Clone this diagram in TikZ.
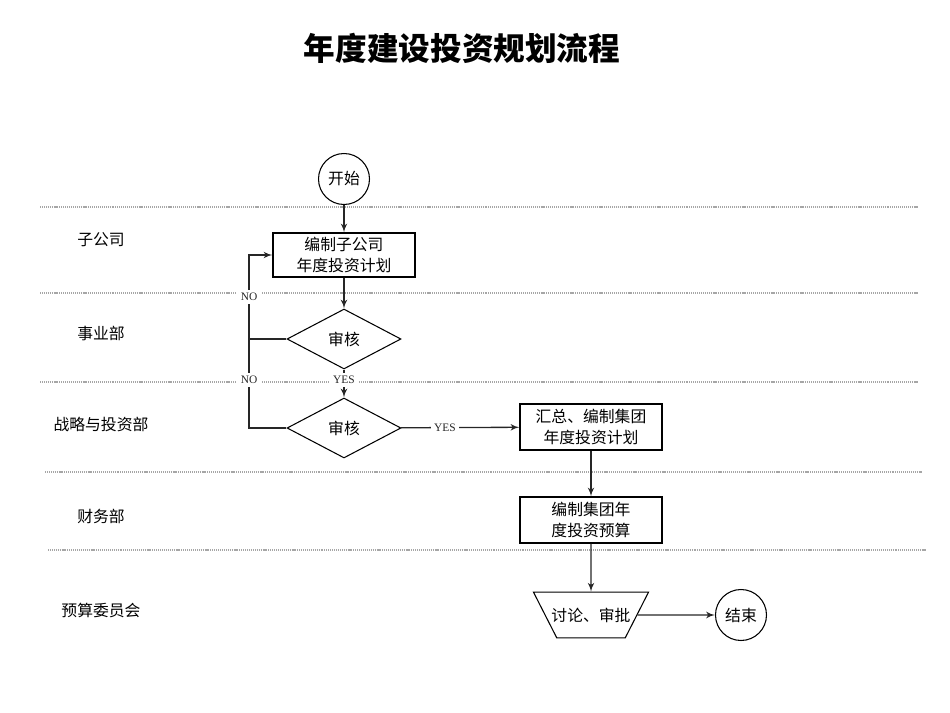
\documentclass[tikz,border=0pt]{standalone}
\usepackage{fontspec}
\setmainfont{Liberation Serif}
\newfontfamily\cjk{Noto Sans CJK SC}
\usetikzlibrary{positioning, arrows, shapes.geometric}
\tikzset{
>=latex', % filled arrow heads
every node/.style={font=\cjk\fontsize{9}{11.5}\selectfont}, % text in the nodes
proc/.style={draw, line width=0.7pt, minimum width=2.84cm, minimum height=0.88cm, align=center, inner sep=1pt}, % process boxes
chk/.style={draw, diamond, line width=0.6pt, minimum width=2.28cm, minimum height=1.2cm, inner sep=0pt}, % decisions
term/.style={draw, circle, line width=0.6pt, minimum size=1.02cm, inner sep=0pt}, % start and end
appr/.style={draw, trapezium, trapezium left angle=63, trapezium right angle=63, shape border rotate=180, trapezium stretches body=true, minimum width=2.24cm, inner xsep=-3pt, inner ysep=0.31cm, line width=0.6pt}, % committee
yn/.style={fill=white, inner sep=2pt, font=\fontsize{6.5}{7}\selectfont}, % YES / NO
link/.style={line width=0.75pt, black!85}, % connectors
lane/.style={gray!70, line width=0.7pt, dash pattern=on 0.6pt off 0.5pt}, % lane borders
}

\begin{document}
\begin{tikzpicture}[x=0.02cm, y=-0.02cm]
    \useasboundingbox (0,0) rectangle (950,713);
    \node (title) at (462,48) {\bfseries\fontsize{18}{20}\selectfont 年度建设投资规划流程};
    % lanes
    \foreach \y/\a/\b in {207/40/918, 293/40/918, 382/40/918, 472/45/922, 550/48/926}
        \draw[lane] (\a,\y) -- (\b,\y);
    \foreach \t/\y [count=\i] in {子公司/240, 事业部/333, 战略与投资部/424, 财务部/516, 预算委员会/610}
        \node (lane\i) at (101,\y) {\t};
    % steps
    \node[term] (start) at (344,179) {开始};
    \node[proc] (sub) at (344,255) {编制子公司\\年度投资计划};
    \node[chk] (chk1) at (344,339) {审核};
    \node[chk] (chk2) at (344,428) {审核};
    \node[proc, minimum height=0.92cm] (sum) at (591,427) {汇总、编制集团\\年度投资计划};
    \node[proc, minimum height=0.92cm] (bud) at (591,520) {编制集团年\\度投资预算};
    \node[appr] (appr) at (591,615) {讨论、审批};
    \node[term] (end) at (741,615) {结束};
    \draw[link, ->] (start) -- (sub);
    \draw[link, ->] (sub) -- (chk1);
    \draw[link, ->] (chk1) -- node[yn, pos=0.38]{YES} (chk2);
    \draw[link, ->] (chk2) -- node[yn, pos=0.37]{YES} (sum);
    \draw[link, ->] (chk1.west) -| (249,297) node[yn]{NO} |- (sub.west);
    \draw[link] (chk2.west) -| (249,380) node[yn]{NO} -- (249,339);
    \draw[link, ->] (sum) -- (bud);
    \draw[link, ->] (bud) -- (appr);
    \draw[link, ->] (appr) -- (end);
\end{tikzpicture}
\end{document}
